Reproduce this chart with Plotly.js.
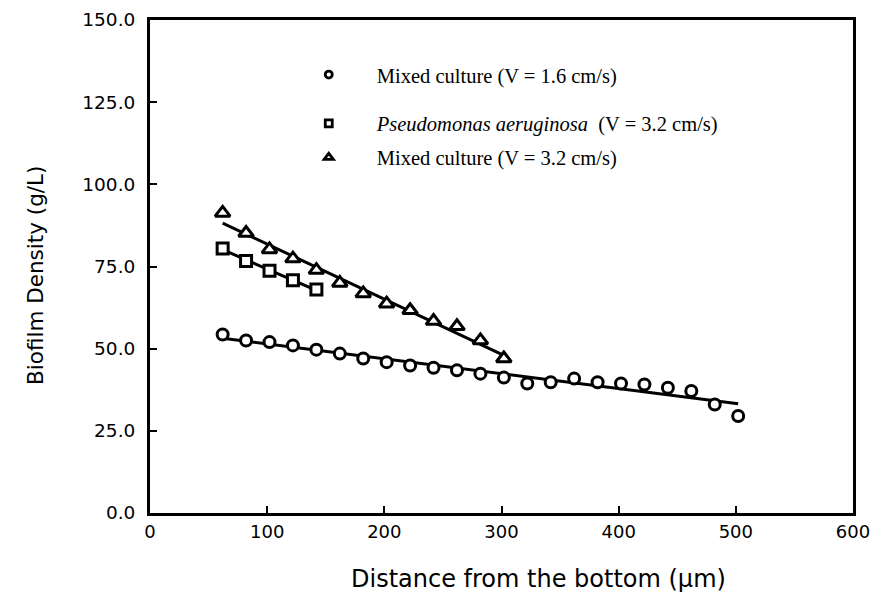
<!DOCTYPE html>
<html>
<head>
<meta charset="utf-8">
<script src="https://cdn.plot.ly/plotly-3.0.1.min.js"></script>
<style>html,body{margin:0;padding:0;background:#fff;}#chart{width:872px;height:605px;}</style>
</head>
<body>
<div id="chart"></div>
<script>
// ---- data ----
var mixed16X = [62, 82, 102, 122, 142, 162, 182, 202, 222, 242, 262, 282, 302, 322, 342, 362, 382, 402, 422, 442, 462, 482, 502];
var mixed16Y = [54.3, 52.5, 52.0, 51.0, 49.7, 48.5, 47.0, 45.9, 44.9, 44.2, 43.4, 42.4, 41.2, 39.4, 39.8, 40.9, 39.8, 39.4, 39.1, 38.1, 37.1, 33.0, 29.5];

var pseudoX = [62, 82, 102, 122, 142];
var pseudoY = [80.5, 76.7, 73.7, 70.8, 68.0];

var mixed32X = [62, 82, 102, 122, 142, 162, 182, 202, 222, 242, 262, 282, 302];
var mixed32Y = [91.3, 85.2, 80.2, 77.4, 73.9, 70.0, 66.8, 63.7, 61.7, 58.4, 56.8, 52.5, 47.0];

var legendNames = [
  'Mixed culture (V = 1.6 cm/s)',
  '<i>Pseudomonas aeruginosa</i>  (V = 3.2 cm/s)',
  'Mixed culture (V = 3.2 cm/s)'
];
var xTickVals = [0, 100, 200, 300, 400, 500, 600];
var yTickVals = [0, 25, 50, 75, 100, 125, 150];
var xTitle = 'Distance from the bottom (μm)';
var yTitle = 'Biofilm Density (g/L)';

// least-squares fit line over the series' own x-span
function fitLine(xs, ys) {
  var n = xs.length, sx = 0, sy = 0, sxx = 0, sxy = 0;
  for (var i = 0; i < n; i++) { sx += xs[i]; sy += ys[i]; sxx += xs[i]*xs[i]; sxy += xs[i]*ys[i]; }
  var b = (n*sxy - sx*sy) / (n*sxx - sx*sx);
  var a = (sy - b*sx) / n;
  var x0 = Math.min.apply(null, xs), x1 = Math.max.apply(null, xs);
  return {x: [x0, x1], y: [a + b*x0, a + b*x1]};
}

var f1 = fitLine(mixed16X, mixed16Y);
var f2 = fitLine(pseudoX, pseudoY);
var f3 = fitLine(mixed32X, mixed32Y);

var lineStyle = {color: '#000', width: 3};
var mk = function(sym, size) {
  return {symbol: sym, size: size, color: '#fff', line: {color: '#000', width: 3}};
};

var traces = [
  {x: f1.x, y: f1.y, mode: 'lines', line: lineStyle, showlegend: false, hoverinfo: 'skip'},
  {x: f2.x, y: f2.y, mode: 'lines', line: lineStyle, showlegend: false, hoverinfo: 'skip'},
  {x: f3.x, y: f3.y, mode: 'lines', line: lineStyle, showlegend: false, hoverinfo: 'skip'},
  {x: mixed16X, y: mixed16Y, mode: 'markers', marker: mk('circle', 11), showlegend: false},
  {x: pseudoX, y: pseudoY, mode: 'markers', marker: mk('square', 11), showlegend: false},
  {x: mixed32X, y: mixed32Y, mode: 'markers', marker: mk('triangle-up', 13), showlegend: false},
  // legend entries
  {x: [null], y: [null], mode: 'markers', name: legendNames[0], legend: 'legend',
   marker: {symbol: 'circle', size: 7, color: '#fff', line: {color: '#000', width: 2.8}}},
  {x: [null], y: [null], mode: 'markers', name: legendNames[1], legend: 'legend2',
   marker: {symbol: 'square', size: 7, color: '#fff', line: {color: '#000', width: 2.8}}},
  {x: [null], y: [null], mode: 'markers', name: legendNames[2], legend: 'legend3',
   marker: {symbol: 'triangle-up', size: 8, color: '#fff', line: {color: '#000', width: 2.8}}}
];

var legFont = {family: 'Liberation Serif, Times New Roman, serif', size: 20.5, color: '#000'};
function leg(y) {
  return {x: 0.186, y: y, xanchor: 'left', yanchor: 'middle', font: legFont,
          bgcolor: 'rgba(0,0,0,0)', borderwidth: 0, itemwidth: 86, itemclick: false};
}

var sans = 'DejaVu Sans, Verdana, sans-serif';
var layout = {
  width: 872, height: 605,
  margin: {l: 150, r: 19, t: 20, b: 92, pad: 0},
  paper_bgcolor: '#fff', plot_bgcolor: '#fff',
  showlegend: true,
  legend: leg(0.889),
  legend2: leg(0.790),
  legend3: leg(0.721),
  xaxis: {
    range: [0, 600], tickvals: xTickVals, ticktext: xTickVals.map(String),
    ticks: 'inside', ticklen: 7, tickwidth: 2, tickcolor: '#000',
    showline: true, linewidth: 3, linecolor: '#000', mirror: true,
    showgrid: false, zeroline: false, ticklabelstandoff: 0,
    tickfont: {family: sans, size: 18, color: '#000'}
  },
  yaxis: {
    range: [0, 150], tickvals: yTickVals, ticktext: yTickVals.map(function(v){return v.toFixed(1);}),
    ticks: 'inside', ticklen: 7, tickwidth: 2, tickcolor: '#000',
    showline: true, linewidth: 3, linecolor: '#000', mirror: true,
    showgrid: false, zeroline: false, ticklabelstandoff: 8,
    tickfont: {family: sans, size: 18.5, color: '#000'}
  },
  annotations: [
    {text: xTitle, xref: 'paper', yref: 'paper', x: 0.552, y: -0.134, xanchor: 'center', yanchor: 'middle',
     showarrow: false, font: {family: sans, size: 24, color: '#000'}},
    {text: yTitle, xref: 'paper', yref: 'paper', x: -0.162, y: 0.481, xanchor: 'center', yanchor: 'middle',
     textangle: -90, showarrow: false, font: {family: sans, size: 21.5, color: '#000'}}
  ]
};

Plotly.newPlot('chart', traces, layout, {displayModeBar: false, staticPlot: true});
</script>
</body>
</html>
